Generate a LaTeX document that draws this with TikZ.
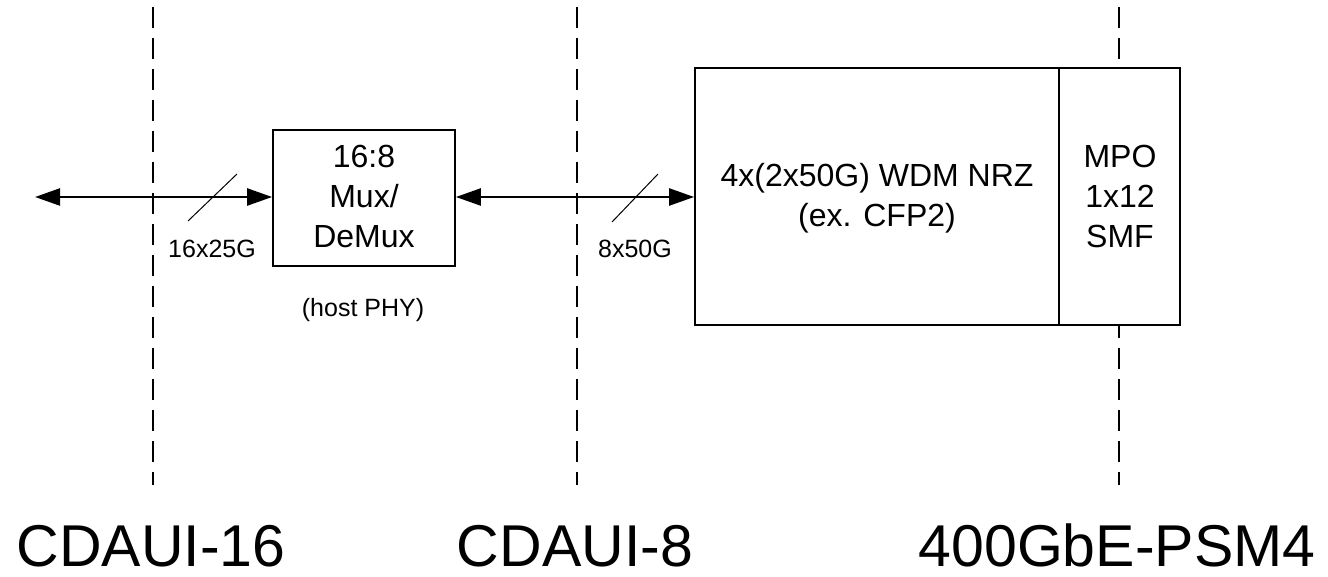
\documentclass[tikz,border=0pt]{standalone}
\usepackage{fontspec}
\setmainfont{Liberation Sans}
\usetikzlibrary{arrows.meta}
\begin{document}
\begin{tikzpicture}[x=1pt,y=-1pt,
  boundary/.style={line width=1.8pt, dash pattern=on 21pt off 10pt},
  blockbox/.style={draw, line width=1.8pt, fill=white, inner sep=0pt},
  link/.style={line width=2.4pt, {Triangle[length=25pt,width=17pt]}-{Triangle[length=25pt,width=17pt]}},
  slash/.style={line width=1pt},
  boxtext/.style={font=\fontsize{32}{40}\selectfont, align=center, inner sep=0pt},
  smalltext/.style={font=\fontsize{25}{30}\selectfont, inner sep=0pt, anchor=base},
  bigtext/.style={font=\fontsize{59}{64}\selectfont, inner sep=0pt, anchor=base, text depth=0pt}]
\useasboundingbox (0,0) rectangle (1328,577);
% dashed boundaries
\coordinate (d1t) at (153,7);   \coordinate (d1b) at (153,485);
\coordinate (d2t) at (577,7);   \coordinate (d2b) at (577,485);
\coordinate (d3t) at (1119,7);  \coordinate (d3b) at (1119,485);
\draw[boundary] (d1t) -- (d1b);
\draw[boundary] (d2t) -- (d2b);
\draw[boundary] (d3t) -- (d3b);
% boxes
\node[blockbox, minimum width=182pt, minimum height=136pt] (mux) at (364,198) {};
\node[blockbox, minimum width=485pt, minimum height=257pt] (mod) at (937.5,196.5) {};
\coordinate (divt) at (1059,68);
\coordinate (divb) at (1059,325);
\draw[line width=1.8pt] (divt) -- (divb);
% box texts (anchor at baseline of last line)
\node[boxtext, anchor=base] (muxt) at (364,248) {16:8\\Mux/\\DeMux};
\node[boxtext, anchor=base] (modt) at (877,227) {4x(2x50G) WDM NRZ\\(ex. CFP2)};
\node[boxtext, anchor=base] (mpot) at (1120,248) {MPO\\1x12\\SMF};
% links
\coordinate (leftend) at (35,197);
\draw[link] (leftend) -- (mux.west |- leftend);
\draw[link] (mux.east |- leftend) -- (mod.west |- leftend);
% slashes
\coordinate (s1a) at (188,221); \coordinate (s1b) at (237,174);
\coordinate (s2a) at (612,222); \coordinate (s2b) at (658,174);
\draw[slash] (s1a) -- (s1b);
\draw[slash] (s2a) -- (s2b);
% labels
\node[smalltext] (l1) at (212,258) {16x25G};
\node[smalltext] (l2) at (635,258) {8x50G};
\node[smalltext] (l3) at (363,317) {(host PHY)};
\node[bigtext] (b1) at (151,566) {CDAUI-16};
\node[bigtext] (b2) at (575,566) {CDAUI-8};
\node[bigtext] (b3) at (1117,566) {400GbE-PSM4};
\end{tikzpicture}
\end{document}
